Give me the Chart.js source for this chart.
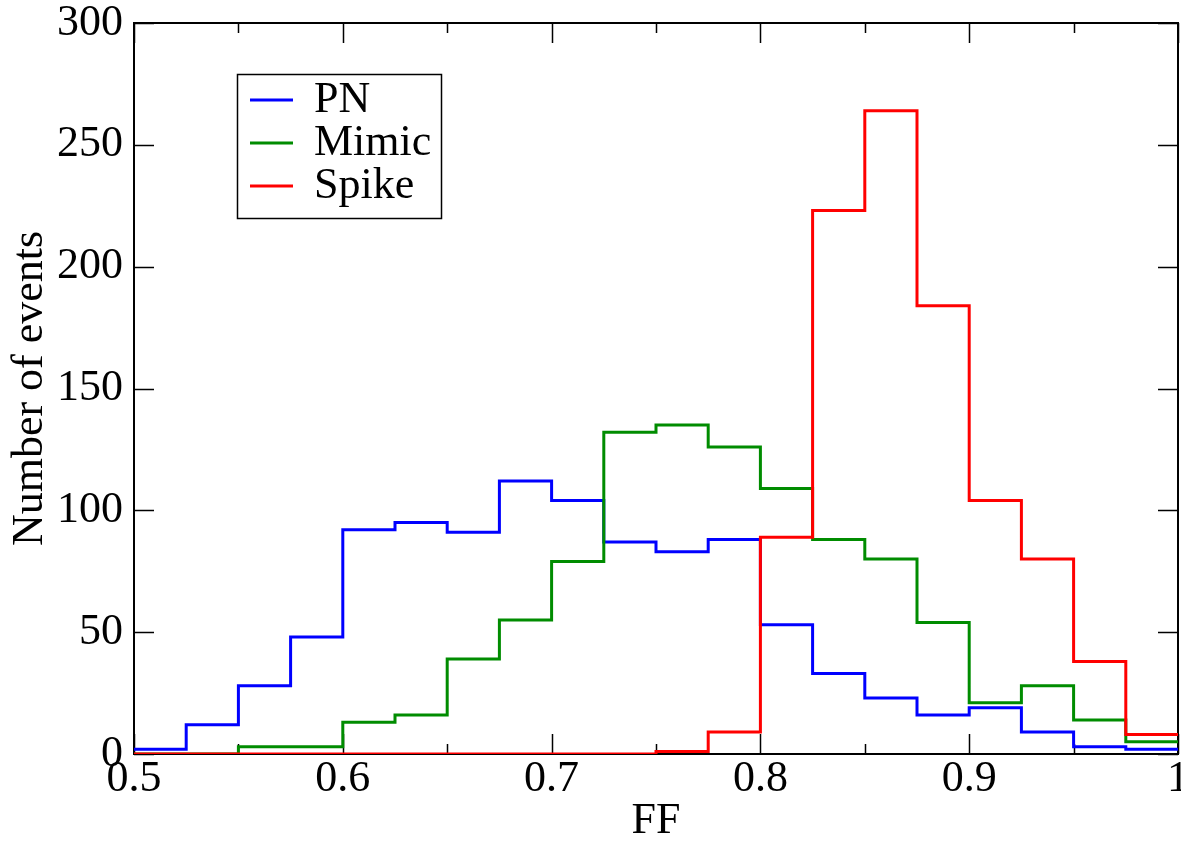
<!DOCTYPE html>
<html>
<head>
<meta charset="utf-8">
<title>FF distribution</title>
<script src="https://cdn.jsdelivr.net/npm/chart.js@4"></script>
<style>
  html, body { margin: 0; padding: 0; background: #fff; }
  canvas { display: block; }
</style>
</head>
<body>
<canvas id="ffHist" width="1181" height="841"></canvas>
<script>
/* FF histograms for PN, Mimic and Spike events (bin width 0.025) */

const binEdges = [0.5, 0.525, 0.55, 0.575, 0.6, 0.625, 0.65, 0.675, 0.7, 0.725,
                  0.75, 0.775, 0.8, 0.825, 0.85, 0.875, 0.9, 0.925, 0.95, 0.975, 1.0];

const pnCounts    = [2, 12, 28, 48, 92, 95, 91, 112, 104, 87,
                     83, 88, 53, 33, 23, 16, 19, 9, 3, 2];
const mimicCounts = [0, 0, 3, 3, 13, 16, 39, 55, 79, 132,
                     135, 126, 109, 88, 80, 54, 21, 28, 14, 5];
const spikeCounts = [0, 0, 0, 0, 0, 0, 0, 0, 0, 0,
                     1, 9, 89, 223, 264, 184, 104, 80, 38, 8];

const seriesNames  = ['PN', 'Mimic', 'Spike'];
const seriesColors = ['#0000ff', '#008c00', '#ff0000'];

const xTicks = [0.5, 0.6, 0.7, 0.8, 0.9, 1.0];
const yTicks = [0, 50, 100, 150, 200, 250, 300];

const FONT = 'Liberation Serif';

// histogram outline: one point per left bin edge, plus a closing point at the last edge
function toSteps(counts) {
  const pts = counts.map((c, i) => ({ x: binEdges[i], y: c }));
  pts.push({ x: binEdges[binEdges.length - 1], y: counts[counts.length - 1] });
  return pts;
}

const allCounts = [pnCounts, mimicCounts, spikeCounts];
const datasets = allCounts.map((counts, i) => ({
  label: seriesNames[i],
  data: toSteps(counts),
  borderColor: seriesColors[i],
  backgroundColor: seriesColors[i],
  borderWidth: 3,
  stepped: 'before',
  pointRadius: 0,
  fill: false,
  borderJoinStyle: 'miter',
  order: allCounts.length - i,   // Spike on top
}));

/* ---- frame + inward tick marks on all four sides ---- */
const frameTicks = {
  id: 'frameTicks',
  beforeDatasetsDraw(chart) {
    const { ctx, chartArea: a, scales: { x, y } } = chart;
    ctx.save();
    ctx.strokeStyle = '#000';
    ctx.lineWidth = 2;
    ctx.strokeRect(a.left, a.top, a.right - a.left, a.bottom - a.top);

    ctx.lineWidth = 1.5;
    ctx.beginPath();
    const xs = x.ticks.map(t => t.value);
    const xMinor = [];
    for (let i = 0; i < xs.length - 1; i++) xMinor.push((xs[i] + xs[i + 1]) / 2);
    const vTick = (v, len) => {
      const px = Math.round(x.getPixelForValue(v)) + 0.5;
      ctx.moveTo(px, a.bottom); ctx.lineTo(px, a.bottom - len);
      ctx.moveTo(px, a.top);    ctx.lineTo(px, a.top + len);
    };
    xs.forEach(v => vTick(v, 20));
    xMinor.forEach(v => vTick(v, 10));
    y.ticks.forEach(t => {
      const py = Math.round(y.getPixelForValue(t.value)) + 0.5;
      ctx.moveTo(a.left, py);  ctx.lineTo(a.left + 20, py);
      ctx.moveTo(a.right, py); ctx.lineTo(a.right - 20, py);
    });
    ctx.stroke();
    ctx.restore();
  },
};

/* ---- boxed legend inside the plot ---- */
const boxLegend = {
  id: 'boxLegend',
  afterDraw(chart) {
    const { ctx } = chart;
    const box = { x: 237.5, y: 74.5, w: 204, h: 144 };
    const rowY = [100, 143, 186];
    ctx.save();
    ctx.fillStyle = '#fff';
    ctx.fillRect(box.x, box.y, box.w, box.h);
    ctx.strokeStyle = '#000';
    ctx.lineWidth = 1.5;
    ctx.strokeRect(box.x, box.y, box.w, box.h);
    ctx.font = `44px "${FONT}"`;
    ctx.textBaseline = 'middle';
    ctx.textAlign = 'left';
    chart.data.datasets.forEach((ds, i) => {
      ctx.strokeStyle = ds.borderColor;
      ctx.lineWidth = 3;
      ctx.beginPath();
      ctx.moveTo(250, rowY[i]);
      ctx.lineTo(293, rowY[i]);
      ctx.stroke();
      ctx.fillStyle = '#000';
      ctx.fillText(ds.label, 314, rowY[i]);
    });
    ctx.restore();
  },
};

new Chart(document.getElementById('ffHist'), {
  type: 'line',
  data: { datasets },
  plugins: [frameTicks, boxLegend],
  options: {
    responsive: false,
    animation: false,
    events: [],
    layout: { padding: { top: 23, right: 3, left: 0, bottom: 0 } },
    plugins: { legend: { display: false }, tooltip: { enabled: false } },
    scales: {
      x: {
        type: 'linear',
        min: 0.5,
        max: 1.0,
        afterBuildTicks: s => { s.ticks = xTicks.map(v => ({ value: v })); },
        afterFit: s => { s.height = 87; s.paddingLeft = 0; s.paddingRight = 0; },
        grid: { display: false, drawTicks: false },
        border: { display: false },
        ticks: {
          autoSkip: false,
          maxRotation: 0,
          padding: 3,
          color: '#000',
          font: { family: FONT, size: 44, lineHeight: 1 },
          callback: v => String(+v.toFixed(2)),
        },
        title: {
          display: true,
          text: 'FF',
          color: '#000',
          font: { family: FONT, size: 44, lineHeight: 0.8 },
          padding: { top: 0, bottom: 2 },
        },
      },
      y: {
        min: 0,
        max: 300,
        afterBuildTicks: s => { s.ticks = yTicks.map(v => ({ value: v })); },
        afterFit: s => { s.width = 134; s.paddingTop = 0; s.paddingBottom = 0; },
        grid: { display: false, drawTicks: false },
        border: { display: false },
        ticks: {
          padding: 11,
          color: '#000',
          font: { family: FONT, size: 44, lineHeight: 1 },
        },
        title: {
          display: true,
          text: 'Number of events',
          color: '#000',
          font: { family: FONT, size: 44, lineHeight: 0.8 },
          padding: { top: 13, bottom: 0 },
        },
      },
    },
  },
});
</script>
</body>
</html>
